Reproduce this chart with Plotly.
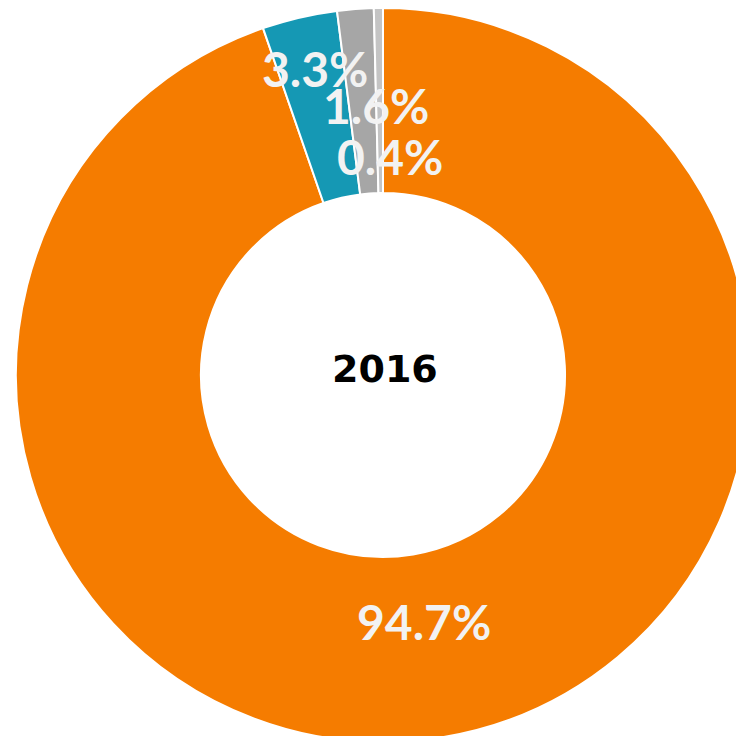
import plotly.graph_objects as go

# Data
categories = ["Categoría A", "Categoría B", "Categoría C", "Categoría D"]
values = [94.7, 3.3, 1.6, 0.4]
colors = ["#F57C00", "#1598B4", "#A6A6A6", "#C4C4C4"]
center_label = "2016"

W, H = 752, 744

fig = go.Figure(
    go.Pie(
        labels=categories,
        values=values,
        sort=False,
        direction="clockwise",
        rotation=0,
        hole=0.496,
        textinfo="none",
        hoverinfo="label+percent",
        marker=dict(colors=colors, line=dict(color="#FFFFFF", width=2)),
        domain=dict(x=[16 / W, 750 / W], y=[1 - 742 / H, 1 - 8 / H]),
        showlegend=False,
    )
)

# label positions (pixel centers in the page)
label_pos = [(424, 621), (315, 68), (376, 106), (390, 156)]
annotations = []
for v, (px, py) in zip(values, label_pos):
    annotations.append(dict(
        x=px / W, y=1 - py / H, xref="paper", yref="paper",
        text=f"<b>{v:.1f}%</b>", showarrow=False,
        font=dict(family="Lato", size=48, color="#F2F2F2"),
        xanchor="center", yanchor="middle",
    ))
annotations.append(dict(
    x=385 / W, y=1 - 369 / H, xref="paper", yref="paper",
    text=f"<b>{center_label}</b>", showarrow=False,
    font=dict(family="DejaVu Sans", size=38, color="#000000"),
    xanchor="center", yanchor="middle",
))

fig.update_layout(
    width=W, height=H,
    margin=dict(l=0, r=0, t=0, b=0),
    paper_bgcolor="#FFFFFF",
    plot_bgcolor="#FFFFFF",
    annotations=annotations,
)

fig.write_html(
    "out.html",
    config={"displayModeBar": False},
    post_script="document.body.style.margin='0';document.body.style.overflow='hidden';",
)
